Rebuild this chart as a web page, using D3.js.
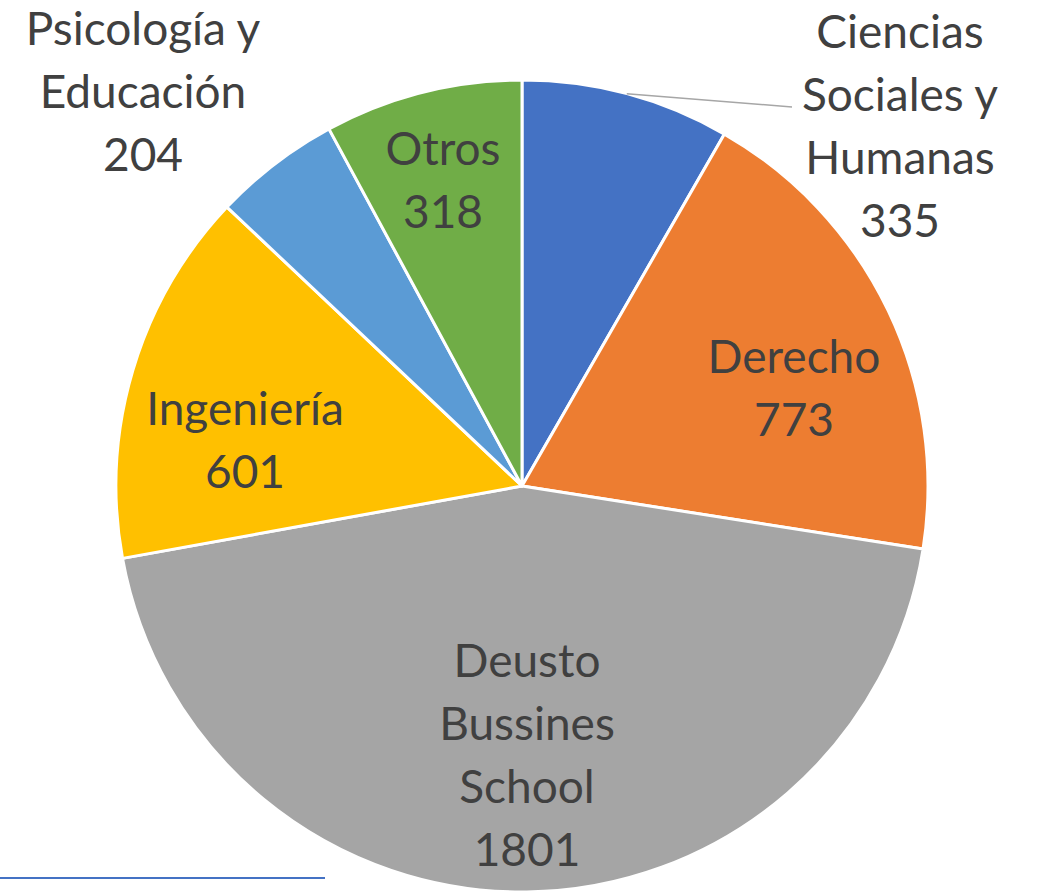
<!DOCTYPE html>
<html>
<head>
<meta charset="utf-8">
<script src="https://cdn.jsdelivr.net/npm/d3@7"></script>
<style>
  body { margin: 0; background: #fff; }
  svg text { font-family: Lato, "Open Sans", sans-serif; fill: #404040; }
</style>
</head>
<body>
<div id="chart"></div>
<script>
// data, clockwise from 12 o'clock
var categories = ["Ciencias Sociales y Humanas", "Derecho", "Deusto Bussines School", "Ingeniería", "Psicología y Educación", "Otros"];
var values = [335, 773, 1801, 601, 204, 318];
var labelLines = [
  ["Ciencias", "Sociales y", "Humanas", "335"],
  ["Derecho", "773"],
  ["Deusto", "Bussines", "School", "1801"],
  ["Ingeniería", "601"],
  ["Psicología y", "Educación", "204"],
  ["Otros", "318"]
];
var colors = ["#4472C4", "#ED7D31", "#A5A5A5", "#FFC000", "#5B9BD5", "#70AD47"];

var width = 1038, height = 895;
var cx = 522, cy = 486, radius = 406;
var lineH = 63;

// where excel put each label block (center of block)
var labelAt = {
  "Ciencias Sociales y Humanas": [900, 126],
  "Derecho": [794, 388],
  "Deusto Bussines School": [527, 755],
  "Ingeniería": [245, 440],
  "Psicología y Educación": [143, 92],
  "Otros": [443, 180]
};

var svg = d3.select("#chart").append("svg")
  .attr("width", width)
  .attr("height", height);

var data = categories.map(function(c, i) {
  return {name: c, value: values[i], lines: labelLines[i]};
});

var color = d3.scaleOrdinal().domain(categories).range(colors);

var pie = d3.pie().sort(null).value(function(d) { return d.value; });
var arc = d3.arc().innerRadius(0).outerRadius(radius);

var g = svg.append("g").attr("transform", "translate(" + cx + "," + cy + ")");

var arcs = pie(data);

g.selectAll("path.slice")
  .data(arcs)
  .enter().append("path")
  .attr("class", "slice")
  .attr("d", arc)
  .attr("fill", function(d) { return color(d.data.name); })
  .attr("stroke", "#fff")
  .attr("stroke-width", 3)
  .attr("stroke-linejoin", "round");

// leader line for the outside label
var first = arcs[0];
var lp = d3.pointRadial((first.startAngle + first.endAngle) / 2, radius);
var la = labelAt[categories[0]];
g.append("polyline")
  .attr("points", [[lp[0], lp[1]], [la[0] - 108 - cx, la[1] - 19 - cy]].join(" "))
  .attr("fill", "none")
  .attr("stroke", "#a6a6a6")
  .attr("stroke-width", 1.5);

// labels
arcs.forEach(function(d) {
  var pos = labelAt[d.data.name];
  var n = d.data.lines.length;
  var t = svg.append("text")
    .attr("text-anchor", "middle")
    .attr("font-size", 46);
  d.data.lines.forEach(function(line, j) {
    t.append("tspan")
      .attr("x", pos[0])
      .attr("y", pos[1] + (j - (n - 1) / 2) * lineH + 16)
      .text(line);
  });
});

// stray underline at bottom left
var xs = d3.scaleLinear().domain([0, 1]).range([0, 325]);
svg.append("line")
  .attr("x1", xs(0)).attr("x2", xs(1))
  .attr("y1", 878).attr("y2", 878)
  .attr("stroke", "#4472C4")
  .attr("stroke-width", 2);
</script>
</body>
</html>
